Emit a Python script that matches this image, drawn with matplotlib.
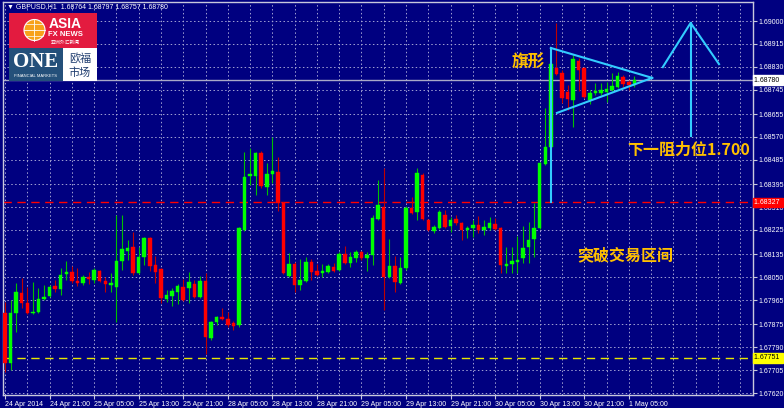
import matplotlib
matplotlib.use("Agg")
import matplotlib.pyplot as plt
from matplotlib import font_manager
from matplotlib.patches import Rectangle, Circle

# GBPUSD H1 candles, 24 Apr 2014 13:00 .. 1 May 2014 06:00 (one per bar)
opens = [1.67917, 1.67731, 1.67917, 1.67991, 1.67954, 1.67917, 1.67920, 1.67969, 1.67980, 1.68017,
         1.68006, 1.68061, 1.68069, 1.68035, 1.68028, 1.68050, 1.68039, 1.68072, 1.68035, 1.68021,
         1.68013, 1.68110, 1.68147, 1.68162, 1.68065, 1.68124, 1.68195, 1.68095, 1.68080, 1.67969,
         1.67980, 1.67995, 1.68013, 1.68009, 1.68024, 1.67976, 1.68035, 1.67824, 1.67883, 1.67902,
         1.67894, 1.67880, 1.67872, 1.68225, 1.68425, 1.68425, 1.68510, 1.68384, 1.68432, 1.68440,
         1.68325, 1.68054, 1.68098, 1.68021, 1.68035, 1.68106, 1.68072, 1.68065, 1.68069, 1.68087,
         1.68076, 1.68136, 1.68102, 1.68121, 1.68143, 1.68121, 1.68132, 1.68265, 1.68310, 1.68050,
         1.68091, 1.68028, 1.68084, 1.68306, 1.68291, 1.68429, 1.68262, 1.68221, 1.68232, 1.68280,
         1.68239, 1.68265, 1.68251, 1.68225, 1.68232, 1.68243, 1.68225, 1.68232, 1.68247, 1.68232,
         1.68091, 1.68098, 1.68106, 1.68121, 1.68162, 1.68191, 1.68232, 1.68469, 1.68533, 1.68826,
         1.68807, 1.68737, 1.68707, 1.68852, 1.68826, 1.68707, 1.68733, 1.68733, 1.68737, 1.68744,
         1.68755, 1.68792, 1.68774, 1.68764]
highs = [1.67958, 1.67965, 1.68028, 1.68047, 1.68013, 1.68032, 1.68009, 1.68021, 1.68021, 1.68039,
         1.68084, 1.68110, 1.68091, 1.68084, 1.68058, 1.68069, 1.68084, 1.68076, 1.68050, 1.68065,
         1.68280, 1.68280, 1.68188, 1.68217, 1.68162, 1.68199, 1.68199, 1.68128, 1.68084, 1.68002,
         1.68009, 1.68024, 1.68043, 1.68069, 1.68039, 1.68054, 1.68065, 1.67887, 1.67906, 1.67935,
         1.67920, 1.67887, 1.68236, 1.68514, 1.68529, 1.68514, 1.68518, 1.68473, 1.68570, 1.68495,
         1.68328, 1.68139, 1.68106, 1.68117, 1.68124, 1.68117, 1.68098, 1.68098, 1.68098, 1.68102,
         1.68143, 1.68165, 1.68143, 1.68150, 1.68147, 1.68143, 1.68280, 1.68410, 1.68455, 1.68191,
         1.68128, 1.68124, 1.68314, 1.68347, 1.68455, 1.68436, 1.68265, 1.68243, 1.68299, 1.68299,
         1.68273, 1.68280, 1.68254, 1.68239, 1.68262, 1.68277, 1.68262, 1.68273, 1.68269, 1.68236,
         1.68162, 1.68162, 1.68202, 1.68239, 1.68254, 1.68325, 1.68477, 1.68677, 1.68844, 1.68993,
         1.68818, 1.68763, 1.68874, 1.68863, 1.68829, 1.68744, 1.68770, 1.68770, 1.68774, 1.68807,
         1.68811, 1.68800, 1.68781, 1.68797]
lows = [1.67698, 1.67705, 1.67846, 1.67935, 1.67913, 1.67913, 1.67917, 1.67965, 1.67976, 1.67995,
        1.67983, 1.68039, 1.68028, 1.68017, 1.68021, 1.68024, 1.68028, 1.68032, 1.67995, 1.67995,
        1.67883, 1.68076, 1.68113, 1.68058, 1.68061, 1.68095, 1.68072, 1.68028, 1.67954, 1.67958,
        1.67943, 1.67950, 1.67961, 1.67954, 1.67972, 1.67972, 1.67765, 1.67817, 1.67872, 1.67891,
        1.67865, 1.67854, 1.67865, 1.68221, 1.68392, 1.68354, 1.68380, 1.68354, 1.68399, 1.68295,
        1.68061, 1.68050, 1.67995, 1.68002, 1.68032, 1.68039, 1.68054, 1.68050, 1.68065, 1.68069,
        1.68072, 1.68098, 1.68087, 1.68106, 1.68113, 1.68072, 1.68095, 1.68262, 1.67928, 1.68047,
        1.67995, 1.68024, 1.68076, 1.68284, 1.68262, 1.68262, 1.68221, 1.68213, 1.68228, 1.68232,
        1.68217, 1.68243, 1.68188, 1.68195, 1.68199, 1.68213, 1.68206, 1.68225, 1.68225, 1.68065,
        1.68065, 1.68065, 1.68065, 1.68102, 1.68102, 1.68124, 1.68228, 1.68466, 1.68529, 1.68800,
        1.68696, 1.68670, 1.68607, 1.68740, 1.68714, 1.68692, 1.68725, 1.68725, 1.68700, 1.68740,
        1.68751, 1.68755, 1.68744, 1.68757]
closes = [1.67731, 1.67917, 1.67995, 1.67954, 1.67917, 1.67920, 1.67969, 1.67976, 1.68013, 1.68006,
          1.68058, 1.68069, 1.68035, 1.68028, 1.68050, 1.68043, 1.68076, 1.68035, 1.68024, 1.68028,
          1.68110, 1.68154, 1.68158, 1.68065, 1.68124, 1.68195, 1.68091, 1.68069, 1.67972, 1.67983,
          1.67998, 1.68017, 1.67965, 1.68032, 1.67976, 1.68035, 1.67828, 1.67883, 1.67902, 1.67894,
          1.67872, 1.67868, 1.68232, 1.68421, 1.68432, 1.68510, 1.68388, 1.68432, 1.68443, 1.68325,
          1.68065, 1.68098, 1.68021, 1.68039, 1.68106, 1.68069, 1.68058, 1.68072, 1.68091, 1.68072,
          1.68136, 1.68102, 1.68124, 1.68143, 1.68121, 1.68132, 1.68269, 1.68317, 1.68050, 1.68091,
          1.68032, 1.68084, 1.68306, 1.68288, 1.68436, 1.68265, 1.68225, 1.68236, 1.68291, 1.68236,
          1.68262, 1.68251, 1.68225, 1.68232, 1.68243, 1.68225, 1.68236, 1.68251, 1.68228, 1.68095,
          1.68098, 1.68110, 1.68113, 1.68158, 1.68188, 1.68232, 1.68473, 1.68533, 1.68840, 1.68803,
          1.68714, 1.68711, 1.68859, 1.68818, 1.68718, 1.68733, 1.68740, 1.68744, 1.68748, 1.68759,
          1.68796, 1.68766, 1.68763, 1.68780]

y_ticks = [1.67620, 1.67705, 1.67790, 1.67875, 1.67965, 1.68050, 1.68135, 1.68225, 1.68310,
           1.68395, 1.68485, 1.68570, 1.68655, 1.68745, 1.68830, 1.68915, 1.69000]
x_tick_bars = [0, 8, 16, 24, 32, 40, 48, 56, 64, 72, 80, 88, 96, 104, 112]
x_tick_labels = ["24 Apr 2014", "24 Apr 21:00", "25 Apr 05:00", "25 Apr 13:00", "25 Apr 21:00",
                 "28 Apr 05:00", "28 Apr 13:00", "28 Apr 21:00", "29 Apr 05:00", "29 Apr 13:00",
                 "29 Apr 21:00", "30 Apr 05:00", "30 Apr 13:00", "30 Apr 21:00", "1 May 05:00"]

bid_price = 1.68780
red_level = 1.68327
yellow_level = 1.67751

# hand drawn lines (bar index, price)
flag_top_x = [98.0, 116.2]
flag_top_y = [1.68900, 1.68789]
flag_bot_x = [99.1, 116.2]
flag_bot_y = [1.68659, 1.68789]
pole_x = [98.0, 98.0]
pole_y = [1.68329, 1.68900]
arrow_x = [123.1, 123.1]
arrow_y = [1.68573, 1.68993]
head_x = [118.1, 123.1, 128.2]
head_y = [1.68829, 1.68993, 1.68840]

navy = "#000080"
gold = "#FFC000"
cyan = "#33CCFF"
cjk = ["Noto Sans CJK SC", "DejaVu Sans"]

names = {f.name for f in font_manager.fontManager.ttflist}
if "Liberation Sans Narrow" in names:
    small_font, small_size = "Liberation Sans Narrow", 6
else:
    small_font, small_size = "Liberation Sans", 5

fig = plt.figure(figsize=(7.84, 4.08), dpi=100, facecolor=navy)
ax = fig.add_axes([3 / 784, 13 / 408, 750 / 784, 393 / 408], facecolor=navy)

ax.set_xlim(-0.36, 134.3)
ax.set_ylim(1.676126, 1.690705)

# grid
for yv in y_ticks:
    ax.axhline(yv, color="#A4A4D4", lw=0.7, ls=(0, (1.5, 2.5)), zorder=0)
for xv in range(0, 135, 4):
    ax.axvline(xv, color="#A4A4D4", lw=0.7, ls=(0, (1.5, 2.5)), zorder=0)

# level lines
ax.axhline(bid_price, color="#A8A8C8", lw=1, zorder=1)
ax.axhline(red_level, color="#FF0000", lw=1, ls=(0, (6, 4)), zorder=1)
ax.axhline(yellow_level, color="#E8E800", lw=1, ls=(0, (6, 4)), zorder=1)

# candles
for i in range(len(opens)):
    o, h, l, c = opens[i], highs[i], lows[i], closes[i]
    up = c >= o
    body = "#00FF00" if up else "#FF0000"
    wick = "#00C000" if up else "#C00000"
    ax.vlines(i, l, h, color=wick, lw=0.8, zorder=2)
    ax.bar(i, max(abs(c - o), 0.00004), bottom=min(o, c), width=0.63,
           color=body, edgecolor=body, lw=0.3, zorder=3)

# flag, pole and arrow
ax.plot(flag_top_x, flag_top_y, color=cyan, lw=1.5, zorder=4)
ax.plot(flag_bot_x, flag_bot_y, color=cyan, lw=1.5, zorder=4)
ax.plot(pole_x, pole_y, color=cyan, lw=1.5, zorder=4)
ax.plot(arrow_x, arrow_y, color=cyan, lw=1.5, zorder=4)
ax.plot(head_x, head_y, color=cyan, lw=1.5, zorder=4)

ax.text(93.9, 1.68848, "旗形", color=gold, fontsize=12, family=cjk, weight="bold",
        ha="center", va="center", zorder=5)
ax.text(111.7, 1.68521, "下一阻力位1.700", color=gold, fontsize=11.5, family=cjk, weight="bold",
        ha="left", va="center", zorder=5)
ax.text(111.3, 1.68132, "突破交易区间", color=gold, fontsize=11.5, family=cjk, weight="bold",
        ha="center", va="center", zorder=5)

# axes styling
for sp in ax.spines.values():
    sp.set_color("#C8C8DC")
    sp.set_linewidth(1)
ax.yaxis.tick_right()
ax.set_yticks(y_ticks)
ax.set_yticklabels([f"{v:.5f}" for v in y_ticks])
ax.set_xticks(x_tick_bars)
ax.set_xticklabels(x_tick_labels)
ax.tick_params(colors="#C8C8DC", length=3, width=0.8, labelcolor="white", pad=1,
               labelsize=small_size)
for lab in ax.get_xticklabels():
    lab.set_ha("left")
    lab.set_family(small_font)
for lab in ax.get_yticklabels():
    lab.set_family(small_font)

# price tags on the right scale
ytr = ax.get_yaxis_transform()
tags = [(bid_price, "white", "black"), (red_level, "#FF0000", "white"), (yellow_level, "#FFFF00", "black")]
for price, bg, fg in tags:
    ax.text(1.002, price, f"{price:.5f} ", transform=ytr, ha="left", va="center", color=fg,
            fontsize=small_size, family=small_font, clip_on=False, zorder=6,
            bbox=dict(boxstyle="square,pad=0.2", facecolor=bg, edgecolor=bg))

# header
fig.text(7 / 784, 1 - 7 / 408, "▼ GBPUSD,H1  1.68764 1.68797 1.68757 1.68780", color="white",
         fontsize=small_size, family=[small_font, "DejaVu Sans"], ha="left", va="center")

# logo overlay in pixel coordinates
lg = fig.add_axes([0, 0, 1, 1], facecolor="none")
lg.set_xlim(0, 784)
lg.set_ylim(408, 0)
lg.axis("off")
lg.add_patch(Rectangle((9, 13), 88, 35, facecolor="#E31B3F", edgecolor="none"))
lg.add_patch(Rectangle((9, 48), 54, 33, facecolor="#24507A", edgecolor="none"))
lg.add_patch(Rectangle((63, 48), 34, 33, facecolor="white", edgecolor="none"))
lg.add_patch(Circle((34.5, 30), 10.5, facecolor="#F7A21B", edgecolor="white", lw=0.8))
lg.plot([24, 45], [30, 30], color="white", lw=0.6)
lg.plot([34.5, 34.5], [19.5, 40.5], color="white", lw=0.6)
lg.plot([26, 43], [24, 24], color="white", lw=0.5)
lg.plot([26, 43], [36, 36], color="white", lw=0.5)
lg.text(65, 24.5, "ASIA", color="white", fontsize=10, weight="bold", family="Liberation Sans",
        ha="center", va="center")
lg.text(65, 35, "FX NEWS", color="white", fontsize=5.5, weight="bold", family="Liberation Sans",
        ha="center", va="center")
lg.text(65, 42, "亚洲外汇新闻", color="white", fontsize=3.5, family=cjk, ha="center", va="center")
lg.text(36, 62, "ONE", color="white", fontsize=15, weight="bold", family="Liberation Serif",
        ha="center", va="center")
lg.text(36, 76, "FINANCIAL MARKETS", color="white", fontsize=3, family="Liberation Sans",
        ha="center", va="center")
lg.text(80, 58, "欧福", color="#1E3C6E", fontsize=8, family=cjk, ha="center", va="center")
lg.text(80, 73, "市场", color="#1E3C6E", fontsize=8, family=cjk, ha="center", va="center")

fig.savefig("out.png", dpi=100, facecolor=navy)
